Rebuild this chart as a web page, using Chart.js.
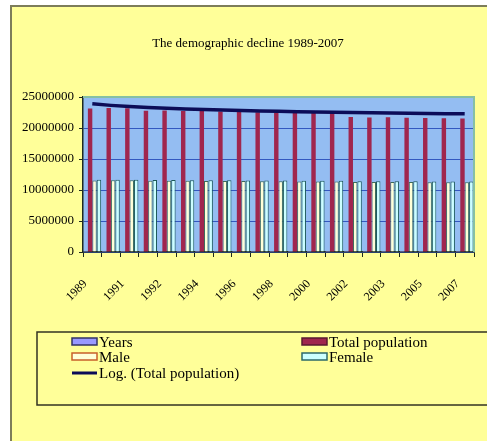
<!DOCTYPE html>
<html>
<head>
<meta charset="utf-8">
<title>The demographic decline 1989-2007</title>
<script src="https://cdn.jsdelivr.net/npm/chart.js@4.4.0/dist/chart.umd.min.js"></script>
<style>
    html, body { margin: 0; padding: 0; background: #ffffff; }
    #wrap { width: 487px; height: 441px; position: relative; }
</style>
</head>
<body>
<div id="wrap"><canvas id="chart" width="487" height="441"></canvas></div>
<script>
// Data
const chartTitle = 'The demographic decline 1989-2007';
const years = ['1989', '1990', '1991', '1992', '1992', '1993', '1994', '1995', '1996', '1997', '1998',
    '1999', '2000', '2001', '2002', '2002', '2003', '2004', '2005', '2006', '2007'];
const yearValues = [1989, 1990, 1991, 1992, 1992, 1993, 1994, 1995, 1996, 1997, 1998,
    1999, 2000, 2001, 2002, 2002, 2003, 2004, 2005, 2006, 2007];
const totalPopulation = [23150000, 23210000, 23190000, 22790000, 22810000, 22760000, 22730000,
    22680000, 22610000, 22550000, 22500000, 22460000, 22440000, 22410000, 21790000, 21680000,
    21730000, 21670000, 21620000, 21580000, 21540000];
const male = [11550000, 11570000, 11560000, 11500000, 11500000, 11480000, 11470000, 11460000,
    11440000, 11420000, 11400000, 11390000, 11380000, 11370000, 11300000, 11280000, 11290000,
    11280000, 11270000, 11260000, 11250000];
const female = [11650000, 11670000, 11660000, 11610000, 11610000, 11590000, 11580000, 11570000,
    11550000, 11530000, 11520000, 11510000, 11500000, 11490000, 11420000, 11400000, 11410000,
    11400000, 11390000, 11380000, 11370000];
const logTrend = [23900000, 23650000, 23450000, 23300000, 23180000, 23070000, 22980000, 22900000,
    22820000, 22760000, 22700000, 22640000, 22590000, 22540000, 22500000, 22460000, 22420000,
    22380000, 22350000, 22310000, 22280000];
const yTicks = [0, 5000000, 10000000, 15000000, 20000000, 25000000];

const serif = '"Liberation Serif", "DejaVu Serif", serif';

// Frame, plot background, title, slanted year labels and the boxed legend
const decorPlugin = {
    id: 'decor',
    beforeDraw(chart) {
        const ctx = chart.ctx;
        const area = chart.chartArea;
        ctx.save();
        ctx.fillStyle = '#ffffff';
        ctx.fillRect(0, 0, chart.width, chart.height);
        ctx.fillStyle = '#ffff99';
        ctx.fillRect(10, 5, chart.width, chart.height);
        ctx.strokeStyle = '#7d7d5a';
        ctx.lineWidth = 2;
        ctx.strokeRect(11, 6, chart.width + 10, chart.height + 10);
        ctx.fillStyle = '#94bdf2';
        ctx.fillRect(area.left, area.top, area.right - area.left, area.bottom - area.top);
        ctx.restore();
    },
    afterDraw(chart) {
        const ctx = chart.ctx;
        const area = chart.chartArea;
        const xScale = chart.scales.x;
        ctx.save();
        // plot border on top and right
        ctx.strokeStyle = '#86c0a4';
        ctx.lineWidth = 2;
        ctx.beginPath();
        ctx.moveTo(area.left, area.top);
        ctx.lineTo(area.right, area.top);
        ctx.lineTo(area.right, area.bottom);
        ctx.stroke();

        // title
        ctx.fillStyle = '#000000';
        ctx.font = '13px ' + serif;
        ctx.textAlign = 'center';
        ctx.textBaseline = 'middle';
        ctx.fillText(chartTitle, 248, 44);

        // every other year, slanted, ending left of its category
        ctx.font = '12px ' + serif;
        ctx.textAlign = 'right';
        years.forEach((label, i) => {
            if (i % 2 !== 0) return;
            const x = xScale.getPixelForValue(i) - 7;
            ctx.save();
            ctx.translate(x, area.bottom + 30);
            ctx.rotate(-Math.PI / 4);
            ctx.fillText(label, 0, 0);
            ctx.restore();
        });

        // legend box
        ctx.strokeStyle = '#333322';
        ctx.lineWidth = 1.5;
        ctx.strokeRect(37, 332, 470, 73);

        const items = chart.data.datasets;
        const slots = [
            { x: 72, y: 342 }, { x: 302, y: 342 },
            { x: 72, y: 357 }, { x: 302, y: 357 },
            { x: 72, y: 373 }
        ];
        ctx.font = '15px ' + serif;
        ctx.textAlign = 'left';
        ctx.textBaseline = 'middle';
        items.forEach((ds, i) => {
            const s = slots[i];
            if (ds.type === 'line') {
                ctx.strokeStyle = ds.borderColor;
                ctx.lineWidth = 3;
                ctx.beginPath();
                ctx.moveTo(s.x, s.y);
                ctx.lineTo(s.x + 25, s.y);
                ctx.stroke();
            } else {
                ctx.fillStyle = ds.backgroundColor;
                ctx.fillRect(s.x, s.y - 4, 25, 7);
                ctx.strokeStyle = ds.legendBorder;
                ctx.lineWidth = 1.5;
                ctx.strokeRect(s.x, s.y - 4, 25, 7);
            }
            ctx.fillStyle = '#000000';
            ctx.fillText(ds.label, s.x + 27, s.y + 1);
        });
        ctx.restore();
    }
};

const ctx = document.getElementById('chart').getContext('2d');
const chart = new Chart(ctx, {
    type: 'bar',
    data: {
        labels: years,
        datasets: [
            {
                label: 'Years',
                data: yearValues,
                backgroundColor: '#9999ff',
                legendBorder: '#333366',
                borderWidth: 0,
                order: 1
            },
            {
                label: 'Total population',
                data: totalPopulation,
                backgroundColor: '#a0264e',
                legendBorder: '#5a1a30',
                borderWidth: 0,
                order: 1
            },
            {
                label: 'Male',
                data: male,
                backgroundColor: '#ffffd8',
                borderColor: '#3d6b5a',
                legendBorder: '#c8602a',
                borderWidth: 1,
                borderSkipped: 'bottom',
                order: 1
            },
            {
                label: 'Female',
                data: female,
                backgroundColor: '#ccffff',
                borderColor: '#1d5a5a',
                legendBorder: '#2d6a6a',
                borderWidth: 1,
                borderSkipped: 'bottom',
                order: 1
            },
            {
                type: 'line',
                label: 'Log. (Total population)',
                data: logTrend,
                borderColor: '#0c0c58',
                borderWidth: 3.5,
                pointRadius: 0,
                fill: false,
                tension: 0,
                order: 0
            }
        ]
    },
    options: {
        responsive: false,
        animation: false,
        events: [],
        layout: {
            padding: { left: 0, top: 97, right: 13, bottom: 129 }
        },
        plugins: {
            legend: { display: false },
            title: { display: false },
            tooltip: { enabled: false }
        },
        datasets: {
            bar: { categoryPercentage: 0.95, barPercentage: 1 }
        },
        scales: {
            x: {
                afterFit(scale) { scale.height = 60; },
                grid: {
                    offset: true,
                    drawOnChartArea: false,
                    tickLength: 5,
                    tickColor: '#1e2a1e'
                },
                border: { display: true, color: '#1e2a1e', width: 1.5 },
                ticks: {
                    display: false,
                    autoSkip: false
                }
            },
            y: {
                min: 0,
                max: 25000000,
                afterFit(scale) { scale.width = 83; },
                afterBuildTicks(scale) {
                    scale.ticks = yTicks.map(v => ({ value: v }));
                },
                grid: {
                    color: '#3358c0',
                    lineWidth: 1,
                    tickLength: 4,
                    tickColor: '#1e2a1e'
                },
                border: { display: true, color: '#1e2a1e', width: 1.5 },
                ticks: {
                    padding: 5,
                    color: '#000000',
                    font: { family: serif, size: 13 },
                    callback(value) { return String(value); }
                }
            }
        }
    },
    plugins: [decorPlugin]
});
</script>
</body>
</html>
